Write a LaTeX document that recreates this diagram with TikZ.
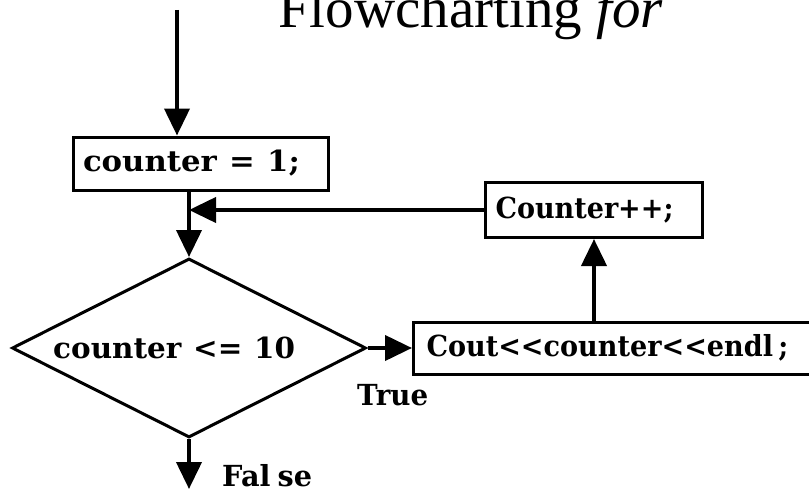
\documentclass[tikz,border=0pt]{standalone}
\usepackage{fontspec}
\usepackage{graphicx}
\setmainfont{Liberation Serif}
\newfontfamily\codefont{DejaVu Serif}
\newcommand\fitto[2]{\resizebox{#1}{\height}{#2}}
\newcommand\gap{\hspace{0.4em}}
\usetikzlibrary{arrows.meta,shapes.geometric}
\tikzset{
  codetext/.style={font=\codefont\bfseries\fontsize{29}{31}\selectfont},
  box/.style={draw, line width=3pt, rectangle, inner ysep=0pt, align=left, codetext},
  code/.style={inner sep=0pt, codetext},
  dec/.style={draw, line width=3pt, shape=diamond, shape aspect=1.98, inner sep=0pt, minimum width=354pt, minimum height=179pt},
  arr/.style={line width=4pt, -{Triangle[length=27pt,width=25pt]}},
  ln/.style={line width=4pt},
}
\begin{document}
\begin{tikzpicture}[x=1pt,y=-1pt]
\useasboundingbox (0,0) rectangle (809,495);
\node[anchor=base west, inner sep=0pt, font=\fontsize{57}{60}\selectfont] (title) at (278,28) {Flowcharting \textit{for}};
\coordinate (start) at (177,10);
\node[box, inner xsep=10pt, text width=235pt, minimum height=53pt] (b1) at (200.5,163.5) {\fitto{217pt}{counter\gap=\gap1;}};
\node[dec] (d) at (189,348) {};
\node[code, anchor=base west] (dtext) at (53,358) {\fitto{242pt}{counter\gap<=\gap10}};
\node[box, inner xsep=10pt, text width=197pt, minimum height=55pt] (c2) at (594,210) {\fitto{178pt}{Counter++;}};
\node[box, anchor=west, inner xsep=13pt, text width=400pt, minimum height=52pt] (c1) at (412,348) {\fitto{362pt}{Cout<<counter<<endl\hspace{0.2em};}};
\node[code, anchor=base west] (true) at (357,405) {\fitto{71pt}{True}};
\node[code, anchor=base west] (false) at (222,486) {\fitto{90pt}{Fal\hspace{0.25em}se}};
\coordinate (m) at (189,210);
\coordinate (f) at (189,489);
% connectors
\draw[arr] (start) -- (start |- b1.north);
\draw[ln] (b1.south -| d.north) -- (m);
\draw[arr] (m) -- (d.north);
\draw[arr] (c2.west) -- (m);
\draw[arr] (d.east) -- (c1.west);
\draw[arr] (c1.north -| c2.south) -- (c2.south);
\draw[arr] (d.south) -- (f);
\end{tikzpicture}
\end{document}
